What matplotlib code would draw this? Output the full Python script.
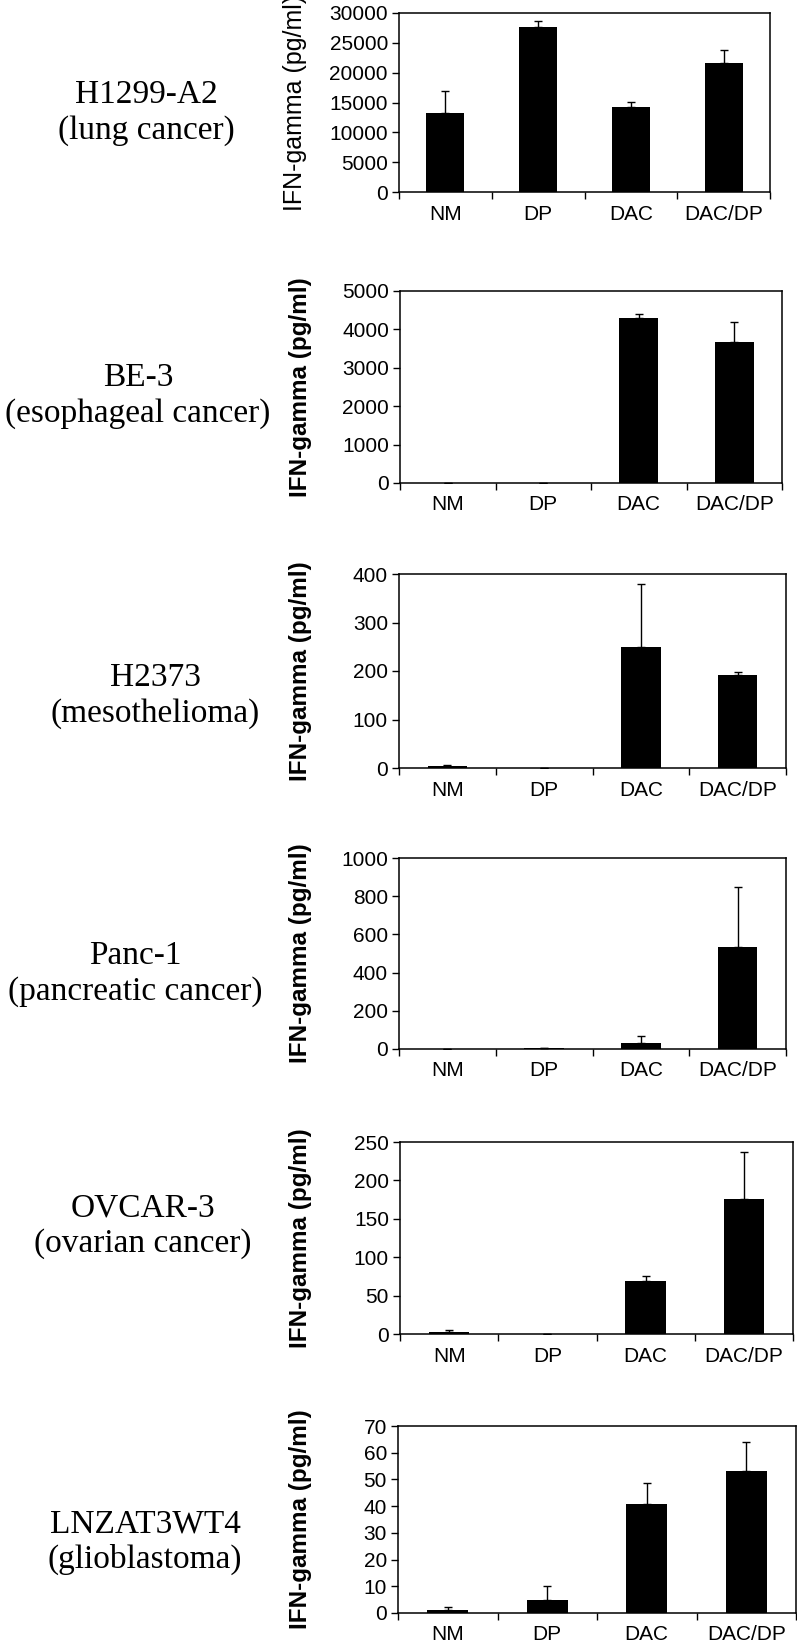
import matplotlib
matplotlib.use("Agg")
import matplotlib.pyplot as plt
from matplotlib.ticker import MultipleLocator, FixedLocator, NullFormatter

W, H = 797, 1645

groups = ["NM", "DP", "DAC", "DAC/DP"]

cell_lines = ["H1299-A2", "BE-3", "H2373", "Panc-1", "OVCAR-3", "LNZAT3WT4"]
cancer_types = ["(lung cancer)", "(esophageal cancer)", "(mesothelioma)",
                "(pancreatic cancer)", "(ovarian cancer)", "(glioblastoma)"]

# IFN-gamma means and upper error (pg/ml)
h1299_mean = [13300, 27600, 14250, 21650]
h1299_err = [3700, 1100, 850, 2200]
be3_mean = [8, 5, 4300, 3670]
be3_err = [0, 0, 100, 510]
h2373_mean = [3.5, 0.5, 250, 192]
h2373_err = [2, 0, 129, 6]
panc1_mean = [1, 3, 33, 535]
panc1_err = [0, 3, 35, 313]
ovcar3_mean = [2.2, 0.3, 69, 175.5]
ovcar3_err = [2.6, 0, 7, 61]
lnzat_mean = [1.1, 4.7, 40.9, 53.1]
lnzat_err = [1.2, 5.4, 7.6, 11]

means = [h1299_mean, be3_mean, h2373_mean, panc1_mean, ovcar3_mean, lnzat_mean]
errs = [h1299_err, be3_err, h2373_err, panc1_err, ovcar3_err, lnzat_err]
ymax = [30000, 5000, 400, 1000, 250, 70]
ystep = [5000, 1000, 100, 200, 50, 10]

# axes boxes in pixels: left, right, top, bottom
boxes = [
    (399, 770, 13, 192),
    (400, 782, 291, 483),
    (399, 786, 574, 768),
    (399, 786, 858, 1049),
    (400, 793, 1142, 1334),
    (398, 796, 1426, 1613),
]
# left hand label centres (pixels)
label_pos = [(146, 113), (138, 396), (155, 696), (135, 974), (143, 1226), (145, 1542)]

fig = plt.figure(figsize=(W / 100, H / 100), dpi=100)

for i, (l, r, t, b) in enumerate(boxes):
    ax = fig.add_axes([l / W, 1 - b / H, (r - l) / W, (b - t) / H])
    x = range(len(groups))
    ax.bar(x, means[i], width=0.41, color="black",
           yerr=[[0] * 4, errs[i]], capsize=2.6,
           error_kw=dict(elinewidth=1.0, capthick=1.0, ecolor="black"))
    ax.set_xlim(-0.5, 3.5)
    ax.set_ylim(0, ymax[i])
    ax.yaxis.set_major_locator(MultipleLocator(ystep[i]))
    ax.set_xticks(list(x))
    ax.set_xticklabels(groups, fontsize=15, family="Liberation Sans")
    ax.xaxis.set_minor_locator(FixedLocator([-0.5, 0.5, 1.5, 2.5, 3.5]))
    ax.xaxis.set_minor_formatter(NullFormatter())
    ax.tick_params(axis="x", which="major", length=0, pad=9)
    ax.tick_params(axis="x", which="minor", length=5, width=1.0, direction="out")
    ax.tick_params(axis="y", length=5, width=1.0, direction="out", pad=3)
    for lab in ax.get_yticklabels():
        lab.set_fontsize(15)
        lab.set_family("Liberation Sans")
    for s in ax.spines.values():
        s.set_linewidth(1.1)
    if i == 0:
        ax.set_ylabel("IFN-gamma (pg/ml)", fontsize=18, family="Liberation Sans")
        ax.yaxis.set_label_coords((307 - l) / (r - l), 0.5)
    else:
        ax.set_ylabel("IFN-gamma (pg/ml)", fontsize=17.5, family="Liberation Sans",
                      fontweight="bold")
        ax.yaxis.set_label_coords((312 - l) / (r - l), 0.5)

    cx, cy = label_pos[i]
    fig.text(cx / W, 1 - cy / H, cell_lines[i] + "\n" + cancer_types[i],
             ha="center", va="center", fontsize=24, family="Liberation Serif",
             linespacing=1.2)

fig.savefig("out.png", dpi=100)
